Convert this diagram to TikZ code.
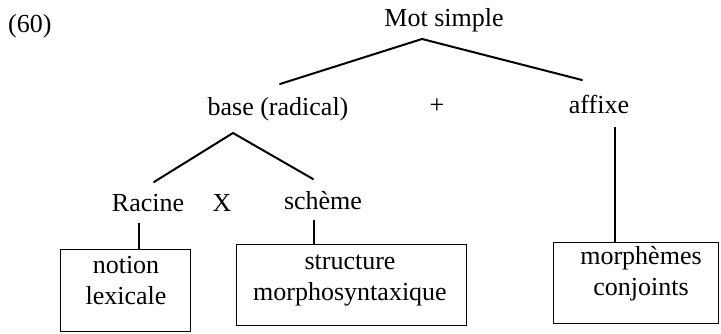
\documentclass[tikz,border=0pt]{standalone}
\usepackage{fontspec}
\setmainfont{Liberation Serif}
\begin{document}
\begin{tikzpicture}[x=1pt,y=-1pt,
  lbl/.style={anchor=base,inner sep=0pt,font=\fontsize{26}{30.5}\selectfont},
  txt/.style={anchor=base,inner sep=0pt,align=center,font=\fontsize{26}{30.5}\selectfont},
  branch/.style={line width=2pt,line cap=round,line join=miter},
  stem/.style={line width=1.6pt},
  boxstyle/.style={draw,line width=1.4pt,inner sep=0pt,anchor=north west}]
\useasboundingbox (0,0) rectangle (721,334);
% labels
\node[lbl,anchor=base west] (num) at (8,33) {(60)};
\node[lbl] (ms) at (444,27) {Mot simple};
\node[lbl] (base) at (278,116) {base (radical)};
\node[lbl] (plus) at (437,114) {+};
\node[lbl] (aff) at (599,114) {affixe};
\node[lbl] (rac) at (148,212) {Racine};
\node[lbl] (x) at (222,212) {X};
\node[lbl] (sch) at (323,210) {schème};
% boxes
\node[boxstyle,minimum width=130pt,minimum height=82pt] (b1) at (60,249) {};
\node[boxstyle,minimum width=230pt,minimum height=81pt] (b2) at (236,244) {};
\node[boxstyle,minimum width=165pt,minimum height=81pt] (b3) at (553,242) {};
\node[txt] (t1) at (126,304) {notion\\lexicale};
\node[txt] (t2) at (350,300) {structure\\morphosyntaxique};
\node[txt] (t3) at (641,295) {morphèmes\\conjoints};
% branch points
\coordinate (msj) at (422,39);
\coordinate (bL) at (280,84);
\coordinate (aR) at (582,80);
\coordinate (bj) at (233,133);
\coordinate (rL) at (154,182);
\coordinate (sR) at (313,179);
\coordinate (racS) at (139,223);
\coordinate (schS) at (314,220);
\coordinate (affS) at (615,127);
% connectors
\draw[branch] (bL) -- (msj) -- (aR);
\draw[branch] (rL) -- (bj) -- (sR);
\draw[stem] (racS) -- (racS |- b1.north);
\draw[stem] (schS) -- (schS |- b2.north);
\draw[stem] (affS) -- (affS |- b3.north);
\end{tikzpicture}
\end{document}
